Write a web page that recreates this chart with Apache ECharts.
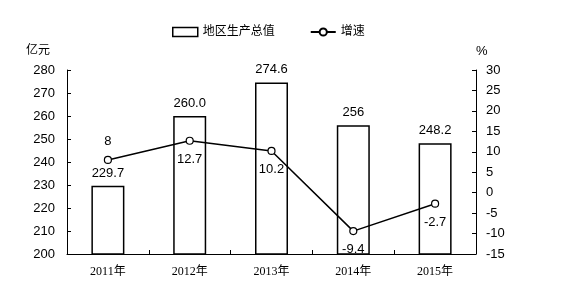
<!DOCTYPE html>
<html><head><meta charset="utf-8">
<script src="https://cdn.jsdelivr.net/npm/echarts@6/dist/echarts.min.js"></script>
<style>html,body{margin:0;padding:0;background:#fff}#c{width:587px;height:306px}</style>
</head><body><div id="c"></div>
<script>
const categories = ['2011年','2012年','2013年','2014年','2015年'];
const gdpValues = [229.7, 260.0, 274.6, 256, 248.2];
const gdpLabels = ['229.7','260.0','274.6','256','248.2'];
const growthValues = [8, 12.7, 10.2, -9.4, -2.7];
const growthLabels = ['8','12.7','10.2','-9.4','-2.7'];
const growthLabelPos = ['top','bottom','bottom','bottom','bottom'];

const font = 'Arial, "Liberation Sans", "Noto Sans CJK SC", sans-serif';
const chart = echarts.init(document.getElementById('c'));
chart.setOption({
  animation: false,
  legend: {
    top: 21, left: 167, itemGap: 35, itemWidth: 25, itemHeight: 9,
    textStyle: {fontSize: 12, color: '#000', fontFamily: font},
    data: [
      {name: '地区生产总值', icon: 'rect', itemStyle: {color: '#fff', borderColor: '#000', borderWidth: 1.5}},
      {name: '增速'}
    ]
  },
  grid: {left: 67, right: 111, top: 70, bottom: 52},
  xAxis: {
    type: 'category', data: categories,
    axisLine: {onZero: false, lineStyle: {color: '#000', width: 1}},
    axisTick: {show: true, inside: true, length: 4, lineStyle: {color: '#000'}},
    axisLabel: {color: '#000', fontSize: 12, margin: 12, fontFamily: '"Liberation Serif", "Noto Sans CJK SC", serif'}
  },
  yAxis: [
    {
      type: 'value', min: 200, max: 280, interval: 10, name: '亿元',
      nameLocation: 'end', nameGap: 13,
      nameTextStyle: {color: '#000', fontSize: 12, align: 'right', padding: [0, 17, 0, 0], fontFamily: font},
      axisLine: {show: true, lineStyle: {color: '#000'}},
      axisTick: {show: true, inside: true, length: 4, lineStyle: {color: '#000'}},
      axisLabel: {color: '#000', fontSize: 13, margin: 12, fontFamily: font},
      splitLine: {show: false}
    },
    {
      type: 'value', min: -15, max: 30, interval: 5, name: '%',
      nameLocation: 'end', nameGap: 12,
      nameTextStyle: {color: '#000', fontSize: 13, align: 'left', fontFamily: font},
      axisLine: {show: true, lineStyle: {color: '#000'}},
      axisTick: {show: true, inside: true, length: 4, lineStyle: {color: '#000'}},
      axisLabel: {color: '#000', fontSize: 13, margin: 10, fontFamily: font},
      splitLine: {show: false}
    }
  ],
  series: [
    {
      name: '地区生产总值', type: 'bar', yAxisIndex: 0, barWidth: 33,
      data: gdpValues,
      itemStyle: {color: '#fff', borderColor: '#000', borderWidth: 1.5},
      label: {show: true, position: 'top', distance: 6, color: '#000', fontSize: 13, fontFamily: font,
        formatter: p => gdpLabels[p.dataIndex]}
    },
    {
      name: '增速', type: 'line', yAxisIndex: 1, z: 5,
      data: growthValues.map((v, i) => ({value: v, label: {position: growthLabelPos[i]}})),
      symbol: 'circle', symbolSize: 7,
      lineStyle: {color: '#000', width: 1.5},
      itemStyle: {color: '#fff', borderColor: '#000', borderWidth: 1.2},
      label: {show: true, distance: 8, color: '#000', fontSize: 13, fontFamily: font,
        formatter: p => growthLabels[p.dataIndex]}
    }
  ]
});
</script></body></html>
